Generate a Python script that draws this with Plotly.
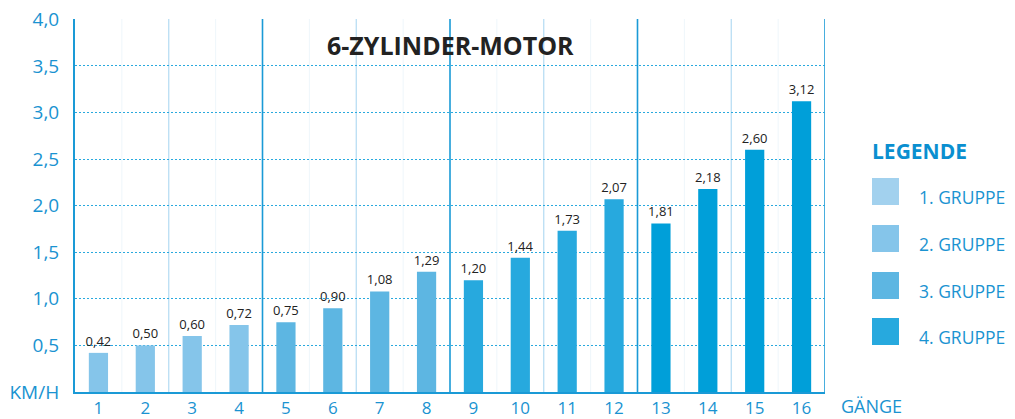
import plotly.graph_objects as go

# ---- data ----
gears = list(range(1, 17))
speeds = [0.42, 0.50, 0.60, 0.72, 0.75, 0.90, 1.08, 1.29,
          1.20, 1.44, 1.73, 2.07, 1.81, 2.18, 2.60, 3.12]
groups = [1, 1, 1, 1, 2, 2, 2, 2, 3, 3, 3, 3, 4, 4, 4, 4]
bar_colors = {1: "#85c5ea", 2: "#5db6e2", 3: "#27a9de", 4: "#009fd9"}
legend_labels = ["1. GRUPPE", "2. GRUPPE", "3. GRUPPE", "4. GRUPPE"]
legend_colors = ["#a2d1ee", "#85c5ea", "#5db6e2", "#27a9de"]
y_tickvals = [0, 0.5, 1.0, 1.5, 2.0, 2.5, 3.0, 3.5, 4.0]
y_ticktext = ["KM/H", "0,5", "1,0", "1,5", "2,0", "2,5", "3,0", "3,5", "4,0"]
title_text = "6-ZYLINDER-MOTOR"

BLUE = "#1a93d1"
LINE = "#1a9ad6"
FONT = "Open Sans"

OFF = 8  # page body margin
W, H = 1015 - OFF, 419 - OFF
# target plot area in page pixels: left 75, right 825, top 19, bottom 392
ML, MT = 75 - OFF, 19 - OFF
MR, MB = W - (825 - OFF), H - (392 - OFF)
PW, PH = W - ML - MR, H - MT - MB


def px_x(x):  # page pixel -> paper
    return (x - OFF - ML) / PW


def px_y(y):
    return (H - MB - (y - OFF)) / PH


fig = go.Figure()
for g in [1, 2, 3, 4]:
    xs = [x for x, gg in zip(gears, groups) if gg == g]
    ys = [y for y, gg in zip(speeds, groups) if gg == g]
    fig.add_trace(go.Bar(
        x=xs, y=ys, marker_color=bar_colors[g], marker_line_width=0,
        texttemplate="%{y:.2f}", textposition="outside", constraintext="none",
        textfont=dict(size=13, color="#222222", family=FONT),
        cliponaxis=False, showlegend=False, width=0.41,
        hoverinfo="skip",
    ))

shapes = []
# vertical separators
for k in range(1, 17):
    xb = k + 0.5
    if k % 4 == 0:
        col, w = LINE, 1.6
    elif k % 2 == 0:
        col, w = "#b3dbf2", 1.2
    else:
        col, w = "#eef6fb", 1
    shapes.append(dict(type="line", xref="x", yref="paper", x0=xb, x1=xb,
                       y0=0, y1=1, line=dict(color=col, width=w), layer="below"))

# legend squares
sq_top = [178, 225, 272, 318]
for top, col in zip(sq_top, legend_colors):
    shapes.append(dict(type="rect", xref="paper", yref="paper",
                       x0=px_x(872), x1=px_x(899), y0=px_y(top + 27), y1=px_y(top),
                       fillcolor=col, line_width=0))

annotations = [
    dict(text="<b>" + title_text + "</b>", xref="paper", yref="paper",
         x=px_x(450), y=px_y(45), showarrow=False, xanchor="center", yanchor="middle",
         font=dict(size=25, color="#222222", family=FONT)),
    dict(text="GÄNGE", xref="paper", yref="paper", x=px_x(839), y=px_y(406),
         showarrow=False, xanchor="left", yanchor="middle",
         font=dict(size=18, color=BLUE, family=FONT)),
    dict(text="<b>LEGENDE</b>", xref="paper", yref="paper", x=px_x(870), y=px_y(151),
         showarrow=False, xanchor="left", yanchor="middle",
         font=dict(size=21, color="#0a8fd0", family=FONT)),
]
for top, lab in zip(sq_top, legend_labels):
    annotations.append(dict(text=lab, xref="paper", yref="paper", x=px_x(917),
                            y=px_y(top + 19), showarrow=False, xanchor="left",
                            yanchor="middle",
                            font=dict(size=17.5, color=BLUE, family=FONT)))

fig.update_layout(
    width=W, height=H, margin=dict(l=ML, r=MR, t=MT, b=MB, autoexpand=False),
    paper_bgcolor="white", plot_bgcolor="white",
    separators=",.", bargap=0.59,
    font=dict(family=FONT, color=BLUE),
    shapes=shapes, annotations=annotations,
    xaxis=dict(range=[0.5, 16.5], tickvals=gears, ticktext=[str(g) for g in gears],
               showgrid=False, zeroline=False, showline=True, linecolor=LINE,
               linewidth=2, ticks="", ticklabelstandoff=0, ticklabeloverflow="allow",
               tickfont=dict(size=17, color=BLUE, family=FONT),
               automargin=False, fixedrange=True),
    yaxis=dict(range=[0, 4.004], tickvals=y_tickvals, ticktext=y_ticktext,
               showgrid=True, gridcolor="#29a9de", griddash="2px,2px", gridwidth=1,
               zeroline=False, showline=True, linecolor=LINE, linewidth=2,
               ticks="", ticklabelstandoff=10, automargin=False,
               ticklabeloverflow="allow",
               tickfont=dict(size=19, color=BLUE, family=FONT), fixedrange=True),
)

fig.write_html("out.html")
